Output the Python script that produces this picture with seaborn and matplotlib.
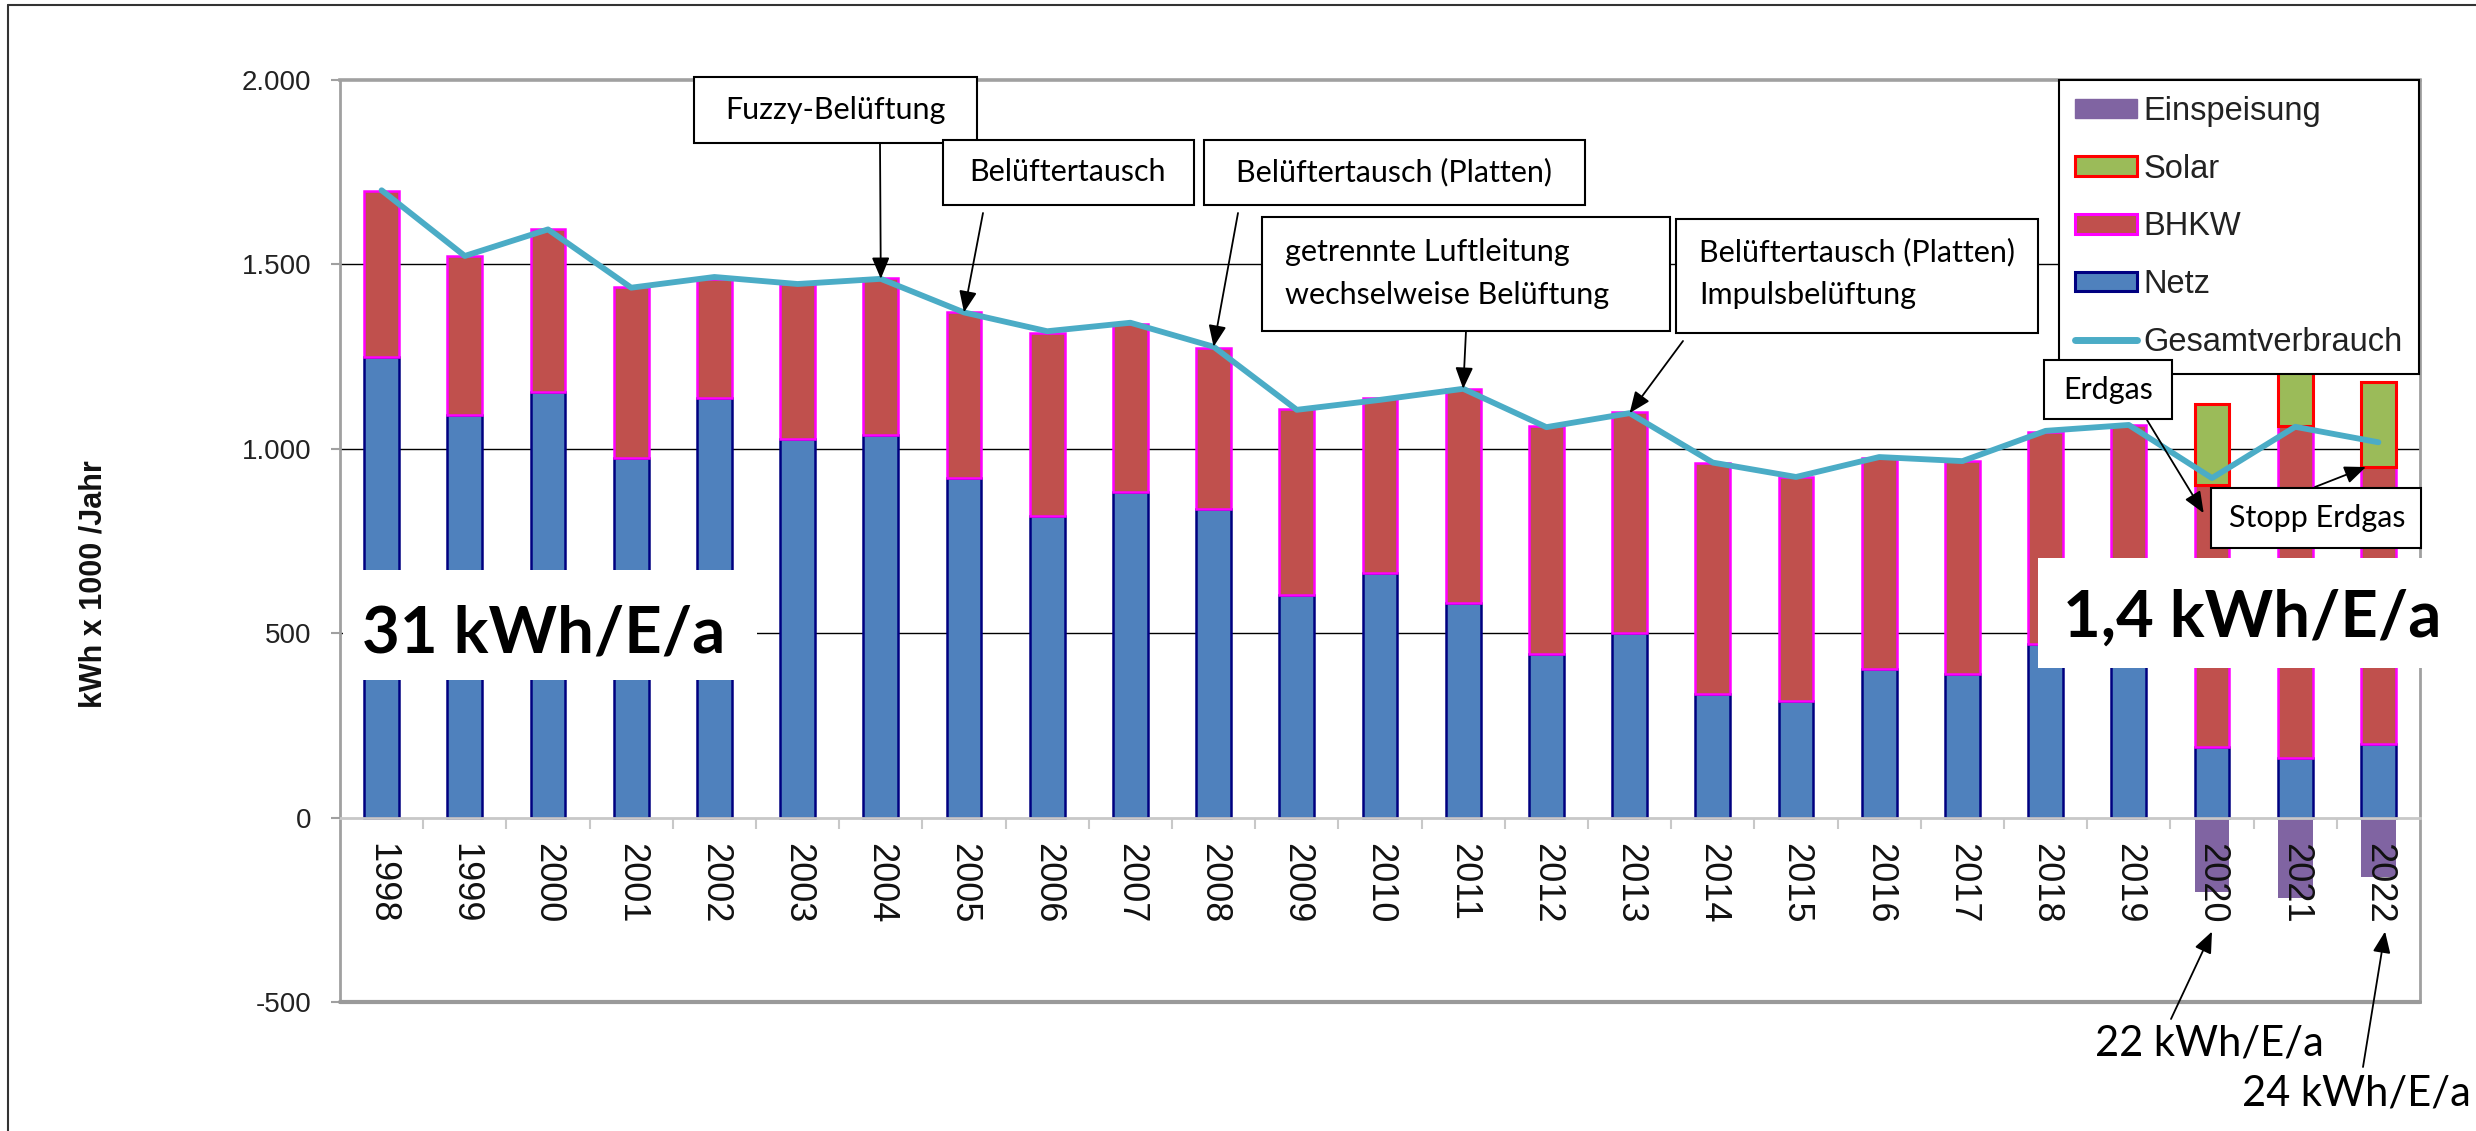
import numpy as np
import pandas as pd
import seaborn as sns
import matplotlib.pyplot as plt
from matplotlib.patches import Patch, Rectangle
from matplotlib.lines import Line2D
from matplotlib.ticker import FuncFormatter

## data (kWh x 1000 per year)
years = list(range(1998, 2023))
netz = [1247, 1091, 1154, 974, 1136, 1027, 1037, 921, 817, 881, 837, 604, 662,
        581, 442, 501, 336, 317, 403, 390, 471, 480, 192, 161, 200]
bhkw = [451, 431, 440, 465, 323, 419, 426, 448, 495, 457, 436, 503, 474,
        581, 618, 598, 626, 606, 572, 575, 573, 583, 708, 901, 750]
solar_years = [2020, 2021, 2022]
solar = [221, 250, 230]
einspeisung = [-203, -219, -160]
gesamt = [1700, 1522, 1594, 1436, 1465, 1446, 1460, 1369, 1318, 1341, 1276, 1105, 1132,
          1162, 1058, 1096, 962, 923, 977, 966, 1048, 1064, 920, 1059, 1017]
yticks = [-500, 0, 500, 1000, 1500, 2000]

c_netz, e_netz = "#4F81BD", "#000080"
c_bhkw, e_bhkw = "#C0504D", "#FF00FF"
c_solar, e_solar = "#9BBB59", "#FF0000"
c_einsp = "#8064A2"
c_line = "#4BACC6"

df = pd.DataFrame({"Jahr": years, "Netz": netz, "BHKW": bhkw, "Gesamt": gesamt})
df["BHKW_top"] = df["Netz"] + df["BHKW"]
df_solar = pd.DataFrame({"Jahr": solar_years, "Solar": solar, "Einspeisung": einspeisung})
df_solar["bottom"] = df.set_index("Jahr").loc[solar_years, "BHKW_top"].values

sns.set_style("white")
plt.rcParams["font.family"] = ["Liberation Sans", "DejaVu Sans"]
note_font = ["Lato", "DejaVu Sans"]

W, H = 2476, 1131
fig = plt.figure(figsize=(W / 100, H / 100), dpi=100)
ax = fig.add_axes([340 / W, 1 - 1002 / H, (2420 - 340) / W, (1002 - 79.6) / H])


def fpos(x, y):
    return x / W, 1 - y / H


## bars
bw = 0.42
sns.barplot(data=df, x="Jahr", y="Netz", native_scale=True, width=bw, color=c_netz,
            saturation=1, errorbar=None, edgecolor=e_netz, linewidth=1.8, zorder=2, ax=ax)
sns.barplot(data=df, x="Jahr", y="BHKW", native_scale=True, width=bw, color=c_bhkw,
            saturation=1, errorbar=None, edgecolor=e_bhkw, linewidth=1.8,
            bottom=df["Netz"].values, zorder=2, ax=ax)
sns.barplot(data=df_solar, x="Jahr", y="Solar", native_scale=True, width=bw, color=c_solar,
            saturation=1, errorbar=None, edgecolor=e_solar, linewidth=2.2,
            bottom=df_solar["bottom"].values, zorder=2, ax=ax)
sns.barplot(data=df_solar, x="Jahr", y="Einspeisung", native_scale=True, width=bw,
            color=c_einsp, saturation=1, errorbar=None, linewidth=0, zorder=2, ax=ax)
sns.lineplot(data=df, x="Jahr", y="Gesamt", color=c_line, linewidth=4.2, zorder=4,
             legend=False, ax=ax)

## axes styling
ax.set_axisbelow(False)
ax.set_xlim(years[0] - 0.5, years[-1] + 0.5)
ax.set_ylim(yticks[0], yticks[-1])
ax.set_xlabel("")
ax.set_ylabel("")
for v in yticks[2:-1]:
    ax.axhline(v, color="black", lw=1.0, zorder=0.5)
ax.axhline(yticks[0], color="#9A9A9A", lw=3, clip_on=False, zorder=3)

for s in ["left", "right", "top"]:
    ax.spines[s].set_color("#A0A0A0")
    ax.spines[s].set_linewidth(2)
ax.spines["top"].set_linewidth(2.6)
ax.spines["bottom"].set_position(("data", 0))
ax.spines["bottom"].set_color("#C8C8C8")
ax.spines["bottom"].set_linewidth(2)

ax.set_yticks(yticks)
ax.yaxis.set_major_formatter(FuncFormatter(lambda v, p: f"{v:,.0f}".replace(",", ".")))
ax.tick_params(axis="y", length=6.5, width=1.5, color="#A0A0A0", pad=14,
               labelsize=20, labelcolor="#222222", left=True)
ax.set_xticks(years)
ax.set_xticklabels([str(y) for y in years])
ax.set_xticks(np.array(years[:-1]) + 0.5, minor=True)
ax.tick_params(axis="x", which="major", length=0, pad=18, labelsize=26,
               labelrotation=-90, labelcolor="#111111", bottom=True)
ax.tick_params(axis="x", which="minor", length=8, width=1.5, color="#C8C8C8",
               direction="out", bottom=True)

fig.text(*fpos(94, 584), "kWh x 1000 /Jahr", rotation=90, fontsize=22, fontweight="bold",
         ha="center", va="center", color="#111111")

## legend
handles = [
    Patch(facecolor=c_einsp, edgecolor=c_einsp, label="Einspeisung"),
    Patch(facecolor=c_solar, edgecolor=e_solar, linewidth=2.2, label="Solar"),
    Patch(facecolor=c_bhkw, edgecolor=e_bhkw, linewidth=2.2, label="BHKW"),
    Patch(facecolor=c_netz, edgecolor=e_netz, linewidth=2.2, label="Netz"),
    Line2D([], [], color=c_line, lw=5, label="Gesamtverbrauch"),
]
leg = ax.legend(handles=handles, loc="upper right", bbox_to_anchor=(0.9995, 1.0),
                fontsize=23.5, frameon=True, fancybox=False, framealpha=1,
                edgecolor="black", borderpad=0.5, labelspacing=0.82,
                handlelength=1.9, handleheight=0.55, handletextpad=0.2, borderaxespad=0)
leg.get_frame().set_linewidth(1.5)
leg.set_zorder(5)
for t in leg.get_texts():
    t.set_color("#222222")


## annotation boxes (figure pixels)
def note_box(x0, y0, x1, y1, face="white", edge="black"):
    fig.add_artist(Rectangle(fpos(x0, y1), (x1 - x0) / W, (y1 - y0) / H,
                             transform=fig.transFigure, facecolor=face,
                             edgecolor=edge, lw=1.5, zorder=6))


def note_text(x, y, s, size=22, ha="center", va="center", weight="normal"):
    fig.text(*fpos(x, y), s, fontsize=size, ha=ha, va=va, fontweight=weight,
             family=note_font, color="black", zorder=7)


def arrow(sx, sy, xd, yd):
    ax.annotate("", xy=(xd, yd), xycoords="data", xytext=fpos(sx, sy),
                textcoords="figure fraction", annotation_clip=False, zorder=5,
                arrowprops=dict(arrowstyle="-|>,head_length=0.65,head_width=0.27",
                                mutation_scale=20, color="black", lw=1.3,
                                shrinkA=0, shrinkB=0))


g = dict(zip(years, gesamt))
top = dict(zip(years, df["BHKW_top"]))

note_box(694, 77, 977, 143)
note_text(835, 110, "Fuzzy-Belüftung")
arrow(880, 143, 2004, g[2004])

note_box(943, 140, 1194, 205)
note_text(1068, 172, "Belüftertausch")
arrow(983, 213, 2005, g[2005])

note_box(1204, 140, 1585, 205)
note_text(1394, 172, "Belüftertausch (Platten)")
arrow(1238, 213, 2008, g[2008])

note_box(1262, 217, 1670, 331)
note_text(1285, 252, "getrennte Luftleitung", ha="left")
note_text(1285, 295, "wechselweise Belüftung", ha="left")
arrow(1466, 331, 2011, g[2011])

note_box(1676, 219, 2038, 333)
note_text(1699, 252, "Belüftertausch (Platten)", ha="left")
note_text(1699, 295, "Impulsbelüftung", ha="left")
arrow(1683, 341, 2013, g[2013])

note_box(2044, 360, 2172, 419)
note_text(2108, 390, "Erdgas")
arrow(2147, 420, 2019.9, 825)

note_box(2211, 488, 2421, 548)
note_text(2317, 518, "Stopp Erdgas")
arrow(2315, 487, 2021.85, top[2022])

## big per-capita labels
note_box(343, 570, 757, 680, edge="none")
note_text(362, 652, "31 kWh/E/a", size=47, ha="left", va="baseline", weight="bold")
note_box(2038, 558, 2423, 668, edge="none")
note_text(2063, 637, "1,4 kWh/E/a", size=47, ha="left", va="baseline", weight="bold")

note_text(2095, 1055, "22 kWh/E/a", size=30, ha="left", va="baseline")
arrow(2171, 1019, 2020, -309)
note_text(2242, 1105, "24 kWh/E/a", size=30, ha="left", va="baseline")
arrow(2363, 1067, 2022.08, -309)

## outer frame of the sheet
fig.add_artist(Line2D([fpos(8, 0)[0], 1], [fpos(0, 5)[1]] * 2, color="#333333", lw=1.5,
                      transform=fig.transFigure))
fig.add_artist(Line2D([fpos(8, 0)[0]] * 2, [0, fpos(0, 5)[1]], color="#333333", lw=1.5,
                      transform=fig.transFigure))

fig.savefig("out.png", dpi=100)
